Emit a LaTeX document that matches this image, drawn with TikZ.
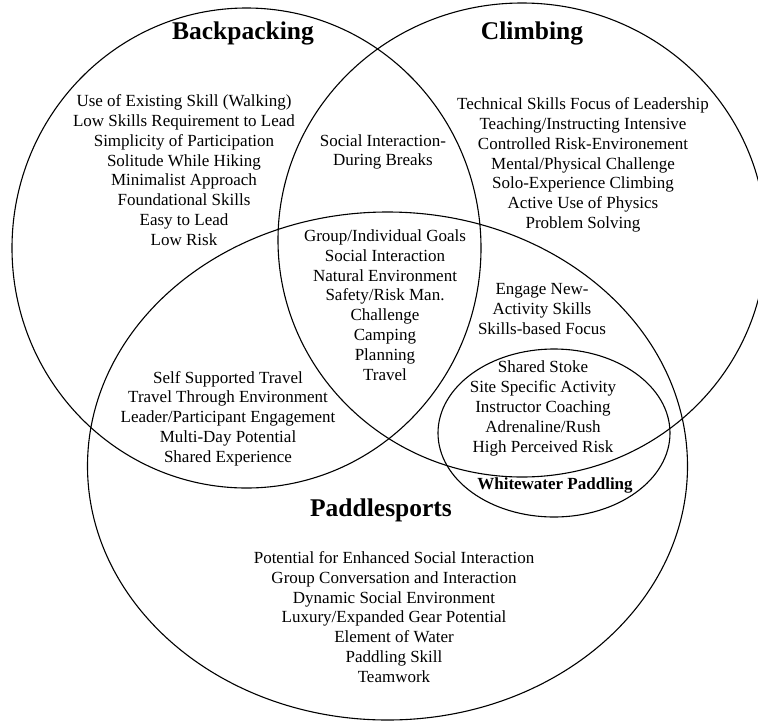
\documentclass[tikz,border=0pt]{standalone}
\usepackage{fontspec}
\setmainfont{Liberation Serif}
\begin{document}
\begin{tikzpicture}
		[x=1pt,y=-1pt,
		 every node/.style={align=center,inner sep=0pt},
		 item/.style={font=\fontsize{17}{19.8}\selectfont},
		 title/.style={font=\fontsize{25.5}{30}\selectfont\bfseries},
		 subtitle/.style={font=\fontsize{17}{20}\selectfont\bfseries},
		 set/.style={draw,line width=1.1pt}]
		\useasboundingbox (0,0) rectangle (758,721);
		\clip (0,0) rectangle (758,721);

		\draw[set] (246.5,248) ellipse [x radius=234.5pt,y radius=240pt];
		\draw[set] (522,240) ellipse [x radius=244pt,y radius=237pt];
		\draw[set] (387.5,466) ellipse [x radius=300pt,y radius=254pt];
		\draw[set] (554,433) ellipse [x radius=116pt,y radius=84pt];

		\node[title] (back) at (243,33) {Backpacking};
		\node[title] (climb) at (532,33) {Climbing};
		\node[title] (paddle) at (381,510) {Paddlesports};
		\node[subtitle] (white) at (555,485) {Whitewater Paddling};

		\node[item] (backlist) at (184,170) {Use of Existing Skill (Walking)\\Low Skills Requirement to Lead\\Simplicity of Participation\\Solitude While Hiking\\Minimalist Approach\\Foundational Skills\\Easy to Lead\\Low Risk};
		\node[item] (climblist) at (583,165) {Technical Skills Focus of Leadership\\Teaching/Instructing Intensive\\Controlled Risk-Environement\\Mental/Physical Challenge\\Solo-Experience Climbing\\Active Use of Physics\\Problem Solving};
		\node[item] (backclimb) at (383,152) {Social Interaction-\\During Breaks};
		\node[item] (allthree) at (385,305) {Group/Individual Goals\\Social Interaction\\Natural Environment\\Safety/Risk Man.\\Challenge\\Camping\\Planning\\Travel};
		\node[item] (climbpaddle) at (542,309) {Engage New-\\Activity Skills\\Skills-based Focus};
		\node[item] (whitelist) at (543,408.5) {Shared Stoke\\Site Specific Activity\\Instructor Coaching\\Adrenaline/Rush\\High Perceived Risk};
		\node[item] (backpaddle) at (228,418.5) {Self Supported Travel\\Travel Through Environment\\Leader/Participant Engagement\\Multi-Day Potential\\Shared Experience};
		\node[item] (paddlelist) at (394,617) {Potential for Enhanced Social Interaction\\Group Conversation and Interaction\\Dynamic Social Environment\\Luxury/Expanded Gear Potential\\Element of Water\\Paddling Skill\\Teamwork};

	\end{tikzpicture}
\end{document}
